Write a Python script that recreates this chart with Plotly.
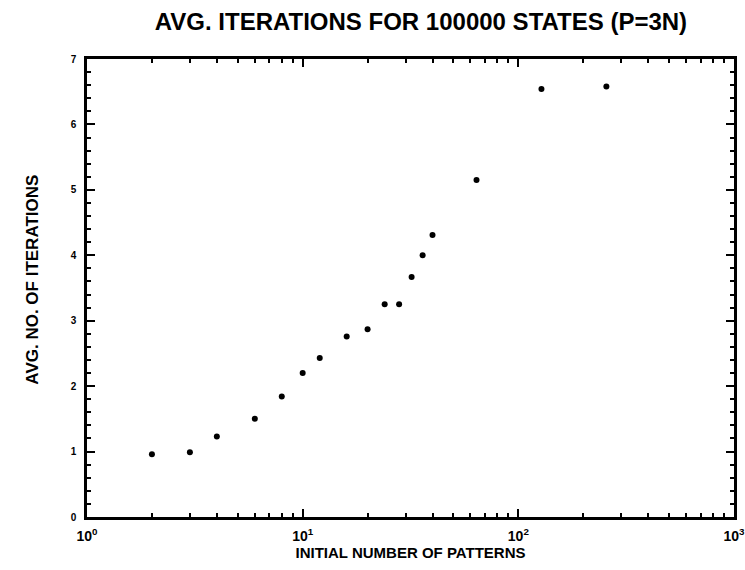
import plotly.graph_objects as go

patterns = [2, 3, 4, 6, 8, 10, 12, 16, 20, 24, 28, 32, 36, 40, 64, 128, 256]
avg_iterations = [0.96, 0.99, 1.23, 1.50, 1.84, 2.20, 2.43, 2.76, 2.87, 3.25, 3.25,
                  3.67, 4.00, 4.31, 5.15, 6.54, 6.58]

x_tickvals = [1, 10, 100, 1000]
x_ticktext = ["10<sup>0</sup>", "10<sup>1</sup>", "10<sup>2</sup>", "10<sup>3</sup>"]
y_tickvals = [0, 1, 2, 3, 4, 5, 6, 7]
y_ticktext = [str(v) for v in y_tickvals]

fig = go.Figure()
fig.add_trace(go.Scatter(
    x=patterns, y=avg_iterations, mode="markers",
    marker=dict(color="black", size=6),
    showlegend=False,
))

fig.update_layout(
    width=745, height=570,
    margin=dict(l=87, r=11, t=59, b=53, autoexpand=False),
    paper_bgcolor="white", plot_bgcolor="white",
    font=dict(family="Liberation Sans", color="black"),
    title=dict(text="<b>AVG. ITERATIONS FOR 100000 STATES (P=3N)</b>",
               x=0.565, xanchor="center", y=0.962, yanchor="middle",
               font=dict(size=24, family="Liberation Sans", color="black")),
    annotations=[dict(
        text="<b>AVG. NO. OF ITERATIONS</b>", textangle=-90,
        xref="paper", yref="paper", x=-0.084, y=0.5175,
        xanchor="center", yanchor="middle", showarrow=False,
        font=dict(size=17, color="black", family="Liberation Sans"),
    )],
)

fig.update_xaxes(
    type="log", range=[0, 3], automargin=False,
    tickvals=x_tickvals, ticktext=[f"<b>{t}</b>" for t in x_ticktext],
    tickfont=dict(size=14, color="black"), ticklabelstandoff=4,
    ticklabeloverflow="allow",
    ticks="inside", ticklen=8, tickwidth=2, tickcolor="black",
    minor=dict(ticks="inside", ticklen=4, tickwidth=2, tickcolor="black", dtick="D1"),
    showline=True, linewidth=2.5, linecolor="black", mirror="allticks",
    showgrid=False, zeroline=False,
    title=dict(text="<b>INITIAL NUMBER OF PATTERNS</b>", font=dict(size=15, color="black"), standoff=2),
)

fig.update_yaxes(
    range=[0, 7], automargin=False,
    tickvals=y_tickvals, ticktext=[f"<b>{t}</b>" for t in y_ticktext],
    tickfont=dict(size=10, color="black"), ticklabelstandoff=6,
    ticks="inside", ticklen=8, tickwidth=2, tickcolor="black",
    minor=dict(ticks="inside", ticklen=4, tickwidth=2, tickcolor="black", dtick=0.2),
    showline=True, linewidth=2.5, linecolor="black", mirror="allticks",
    showgrid=False, zeroline=False,
)

fig.write_html("out.html")
